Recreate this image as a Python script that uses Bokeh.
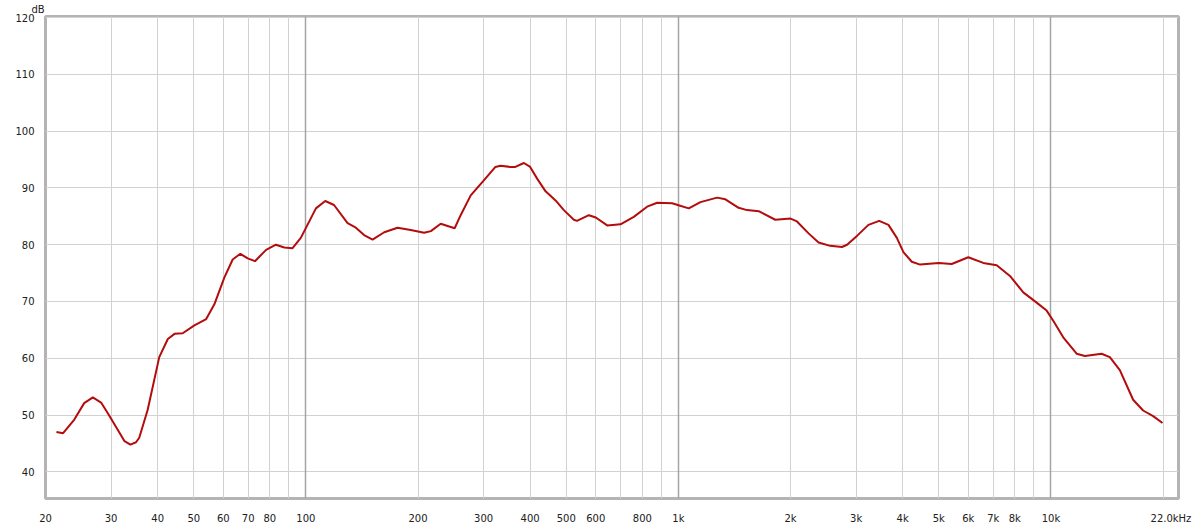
from bokeh.plotting import figure
from bokeh.models import FixedTicker, Grid, Range1d, Title
from bokeh.embed import file_html
from bokeh.resources import INLINE

freq = [21.4, 22.3, 23.9, 25.4, 26.8, 28.2, 29.4, 31.6, 32.6, 33.8, 35.0, 35.7, 37.6, 40.4,
        42.6, 44.4, 46.7, 50.2,
        54.0, 56.8, 60.4, 63.6, 66.7, 69.8, 73.0, 78.2, 83.1, 87.5, 92.1, 96.9, 101, 106.4,
        112.7, 119, 129.4, 136.2, 143.3, 151, 162.3, 176.2, 191.2, 207.6, 216.5, 230.1, 242.5,
        250.8, 260.3, 277, 300, 322.7, 332.8, 354.5, 365, 384.8, 400, 418, 440, 468, 492.6,
        524, 534, 575, 600, 644, 699, 759, 824, 877, 962, 996, 1066, 1146, 1270, 1337, 1451,
        1528, 1642, 1820, 2000, 2081, 2236, 2378, 2556, 2748, 2836, 3020, 3237, 3459, 3663,
        3858, 4018, 4231, 4455, 5000, 5416, 6000, 6581, 7152, 7762, 8428, 9155, 9737, 10144,
        10790, 11720, 12340, 13675, 14390, 15310, 16620, 17680, 18810, 19930]
spl = [47.0, 46.8, 49.2, 52.1, 53.1, 52.2, 50.3, 46.9, 45.4, 44.8, 45.2, 46.0, 50.9, 60.2,
       63.4, 64.3, 64.4, 65.8,
       66.9, 69.5, 74.2, 77.4, 78.4, 77.6, 77.1, 79.1, 80.0, 79.5, 79.4, 81.2, 83.5, 86.4,
       87.7, 87.0, 83.8, 83.0, 81.7, 80.9, 82.2, 83.0, 82.6, 82.1, 82.4, 83.7, 83.2,
       82.9, 85.2, 88.7, 91.3, 93.7, 93.9, 93.7, 93.7, 94.4, 93.7, 91.6, 89.4, 87.8, 86.1,
       84.4, 84.2, 85.2, 84.8, 83.4, 83.6, 84.9, 86.7, 87.4, 87.3, 87.0, 86.4, 87.5, 88.3, 88.0, 86.5,
       86.1, 85.9, 84.4, 84.6, 84.1, 82.0, 80.4, 79.8, 79.6, 80.0, 81.6, 83.5, 84.2, 83.5,
       81.2, 78.7, 77.0, 76.5, 76.8, 76.6, 77.8, 76.8, 76.4, 74.5, 71.6, 69.8, 68.4, 66.6,
       63.7, 60.8, 60.4, 60.8, 60.2, 57.9, 52.7, 50.8, 49.8, 48.6]

x_ticks = [20, 30, 40, 50, 60, 70, 80, 100, 200, 300, 400, 500, 600, 800, 1000,
           2000, 3000, 4000, 5000, 6000, 7000, 8000, 10000, 21000]
x_tick_labels = ["20", "30", "40", "50", "60", "70", "80", "100", "200", "300", "400", "500",
                 "600", "800", "1k", "2k", "3k", "4k", "5k", "6k", "7k", "8k", "10k", "22.0kHz"]
minor_grid = [30, 40, 50, 60, 70, 80, 90, 200, 300, 400, 500, 600, 700, 800, 900,
              2000, 3000, 4000, 5000, 6000, 7000, 8000, 9000, 20000]
major_grid = [100, 1000, 10000]
y_ticks = [40, 50, 60, 70, 80, 90, 100, 110, 120]
unit_label = "dB"

FONT = "DejaVu Sans"

p = figure(width=1200, height=526, x_axis_type="log",
           x_range=Range1d(20, 22000), y_range=Range1d(35.3, 120.2),
           output_backend="svg", toolbar_location=None,
           min_border_left=45, min_border_right=22, min_border_top=16, min_border_bottom=23)
p.background_fill_color = "white"
p.border_fill_color = "white"
p.outline_line_color = "#b4b4b4"
p.outline_line_width = 3

# grids
p.xgrid.ticker = FixedTicker(ticks=minor_grid)
p.xgrid.grid_line_color = "#d2d2d2"
p.xgrid.grid_line_width = 1
p.ygrid.ticker = FixedTicker(ticks=y_ticks)
p.ygrid.grid_line_color = "#d2d2d2"
p.ygrid.grid_line_width = 1
p.add_layout(Grid(dimension=0, ticker=FixedTicker(ticks=major_grid),
                  grid_line_color="#a4a4a4", grid_line_width=1.5))

# axes
for ax in (p.xaxis[0], p.yaxis[0]):
    ax.axis_line_color = None
    ax.major_tick_line_color = None
    ax.minor_tick_line_color = None
    ax.major_label_text_font = FONT
    ax.major_label_text_font_size = "10px"
    ax.major_label_text_color = "#202020"

p.xaxis.ticker = FixedTicker(ticks=x_ticks)
p.xaxis.major_label_overrides = {t: l for t, l in zip(x_ticks, x_tick_labels)}
p.xaxis.major_label_standoff = 8
p.yaxis.ticker = FixedTicker(ticks=y_ticks)
p.yaxis.major_label_standoff = 5

p.line(freq, spl, line_color="#b40c0c", line_width=2)

p.add_layout(Title(text=unit_label, align="left", offset=-14, standoff=3,
                   text_font=FONT, text_font_size="10px", text_font_style="normal",
                   text_color="#202020"), "above")

open("out.html", "w").write(file_html(p, INLINE))
